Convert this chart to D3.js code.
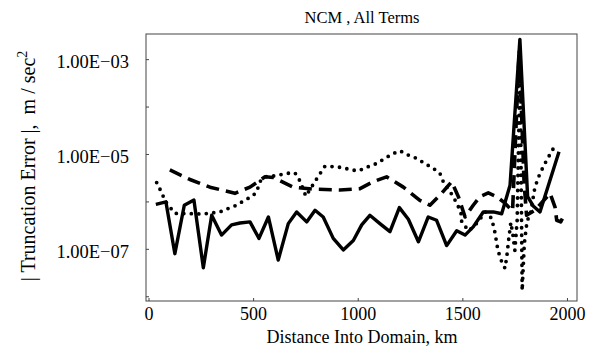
<!DOCTYPE html>
<html>
<head>
<meta charset="utf-8">
<script src="https://cdn.jsdelivr.net/npm/d3@7"></script>
<style>
  body { margin: 0; background: #fff; }
  text { font-family: "Liberation Serif", "DejaVu Serif", serif; fill: #000; }
</style>
</head>
<body>
<script>
// distance (km) and |truncation error| (m/sec^2)
var solidX = [35, 83, 126, 171, 217, 262, 302, 349, 397, 437, 485, 528, 573, 620, 668, 708, 756, 796, 835, 883,
  931, 979, 1019, 1058, 1106, 1154, 1199, 1242, 1290, 1337, 1377, 1425, 1473, 1513, 1552, 1600, 1648, 1688,
  1728, 1775, 1812, 1840, 1871, 1962];
var solidY = [8.7e-7, 9.8e-7, 7.9e-8, 8.3e-7, 1.07e-6, 4.0e-8, 5.1e-7, 1.95e-7, 3.2e-7, 3.5e-7, 3.7e-7, 1.66e-7,
  4.7e-7, 5.8e-8, 3.4e-7, 6.0e-7, 3.7e-7, 6.5e-7, 4.7e-7, 1.66e-7, 9.5e-8, 1.5e-7, 3.2e-7, 5.1e-7, 3.4e-7,
  2.3e-7, 7.4e-7, 4.2e-7, 1.41e-7, 4.7e-7, 4.0e-7, 1.17e-7, 2.4e-7, 1.95e-7, 2.9e-7, 6.0e-7, 6.0e-7, 5.5e-7,
  2.2e-6, 2.6e-3, 1.26e-6, 7.9e-7, 6.0e-7, 1.12e-5];

var dashedX = [102, 198, 294, 413, 485, 557, 596, 692, 788, 915, 1011, 1074, 1138, 1218, 1297, 1345, 1401, 1449,
  1481, 1513, 1552, 1584, 1624, 1664, 1696, 1740, 1772, 1795, 1807, 1847, 1919, 1943, 1951, 1970, 1991];
var dashedY = [4.6e-6, 2.9e-6, 2.0e-6, 1.48e-6, 2.0e-6, 3.3e-6, 3.2e-6, 2.0e-6, 1.82e-6, 1.74e-6, 1.86e-6,
  2.6e-6, 3.3e-6, 2.0e-6, 1.05e-6, 8.3e-7, 1.48e-6, 2.6e-6, 1.26e-6, 4.7e-7, 8.3e-7, 1.26e-6, 1.51e-6,
  1.26e-6, 9.8e-7, 6.3e-7, 1.6e-3, 2.5e-6, 5.1e-7, 6.5e-7, 1.48e-6, 7.6e-7, 4.0e-7, 3.7e-7, 5.5e-7];

var dottedX = [39, 59, 82, 126, 214, 254, 341, 381, 421, 461, 493, 517, 532, 556, 612, 660, 700, 724, 752, 795,
  819, 843, 883, 923, 963, 1002, 1050, 1090, 1130, 1165, 1202, 1241, 1282, 1321, 1361, 1393, 1409, 1457, 1473,
  1493, 1497, 1530, 1570, 1610, 1640, 1656, 1670, 1689, 1704, 1713, 1722, 1732, 1742, 1751, 1762, 1776, 1786,
  1796, 1810, 1823, 1847, 1871, 1903, 1947];
var dottedY = [2.5e-6, 1.66e-6, 9.8e-7, 5.6e-7, 5.5e-7, 5.4e-7, 6.0e-7, 7.1e-7, 8.3e-7, 1.07e-6, 1.26e-6,
  1.58e-6, 2.6e-6, 3.3e-6, 3.5e-6, 3.9e-6, 4.0e-6, 2.7e-6, 1.29e-6, 2.6e-6, 3.8e-6, 5.5e-6, 5.4e-6, 5.2e-6,
  4.7e-6, 4.4e-6, 5.4e-6, 6.3e-6, 8.1e-6, 1.0e-5, 1.17e-5, 9.5e-6, 8.1e-6, 6.3e-6, 5.0e-6, 3.9e-6, 2.6e-6,
  1.26e-6, 9.1e-7, 6.0e-7, 3.7e-7, 2.4e-7, 3.5e-7, 6.0e-7, 4.4e-7, 2.2e-7, 9.3e-8, 5.2e-8, 3.9e-8, 7.2e-8,
  1.66e-7, 3.6e-7, 1.9e-7, 9.3e-8, 4.0e-7, 1.0e-3, 1.32e-8, 1.26e-7, 4.1e-7, 4.7e-7, 2.0e-6, 3.9e-6, 7.4e-6,
  1.62e-5];

var xTicks = [0, 500, 1000, 1500, 2000];
var yTicks = [1e-3, 1e-4, 1e-5, 1e-6, 1e-7, 1e-8];
var yLabelled = [1e-3, 1e-5, 1e-7];

var width = 599, height = 349;
var plotL = 146, plotR = 577, plotT = 34, plotB = 301;

var svg = d3.select("body").append("svg").attr("width", width).attr("height", height);

var x = d3.scaleLinear().domain([-12, 2048]).range([plotL, plotR]);
var y = d3.scaleLog().domain([Math.pow(10, -8.1), Math.pow(10, -2.47)]).range([plotB, plotT]);

svg.append("clipPath").attr("id", "plot")
    .append("rect").attr("x", plotL).attr("y", plotT).attr("width", plotR - plotL).attr("height", plotB - plotT);

function pairs(xs, ys) {
    return xs.map(function (d, i) { return [d, ys[i]]; });
}

var line = d3.line()
    .x(function (d) { return x(d[0]); })
    .y(function (d) { return y(d[1]); });

var lines = svg.append("g").attr("clip-path", "url(#plot)")
    .attr("fill", "none").attr("stroke", "#000").attr("stroke-linejoin", "round");

lines.append("path").datum(pairs(dottedX, dottedY))
    .attr("d", line)
    .attr("stroke-width", 3.8)
    .attr("stroke-linecap", "round")
    .attr("stroke-dasharray", "0,7.5");

lines.append("path").datum(pairs(dashedX, dashedY))
    .attr("d", line)
    .attr("stroke-width", 3.6)
    .attr("stroke-dasharray", "13,7");

lines.append("path").datum(pairs(solidX, solidY))
    .attr("d", line)
    .attr("stroke-width", 3.4);

// frame
svg.append("rect")
    .attr("x", plotL).attr("y", plotT)
    .attr("width", plotR - plotL).attr("height", plotB - plotT)
    .attr("fill", "none").attr("stroke", "#444").attr("stroke-width", 1);

// y axis: ticks inside, labels only at odd decades
var yAxis = d3.axisLeft(y).tickValues(yTicks).tickSizeInner(-3).tickSizeOuter(0)
    .tickFormat(function (d) {
        return yLabelled.indexOf(d) > -1 ? "1.00E\u2212" + d3.format("02d")(-Math.round(Math.log10(d))) : "";
    });
var gy = svg.append("g").attr("transform", "translate(" + plotL + ",0)").call(yAxis);
gy.select(".domain").remove();
gy.selectAll("line").attr("stroke", "#444");
gy.selectAll("text").attr("x", -17).attr("dy", "0.45em")
    .style("font-size", "18.5px").style("font-family", "'Liberation Serif', serif");

var xAxis = d3.axisBottom(x).tickValues(xTicks).tickSizeInner(-3).tickSizeOuter(0).tickFormat(d3.format("d"));
var gx = svg.append("g").attr("transform", "translate(0," + plotB + ")").call(xAxis);
gx.select(".domain").remove();
gx.selectAll("line").attr("stroke", "#444");
gx.selectAll("text").attr("y", 19).attr("dy", 0)
    .style("font-size", "18px").style("font-family", "'Liberation Serif', serif");

// titles
svg.append("text").attr("x", 362).attr("y", 23).attr("text-anchor", "middle")
    .style("font-size", "16.5px").text("NCM , All Terms");

svg.append("text").attr("x", 362).attr("y", 343).attr("text-anchor", "middle")
    .style("font-size", "18px").text("Distance Into Domain, km");

var yl = svg.append("text").attr("transform", "translate(35,166) rotate(-90)")
    .attr("text-anchor", "middle").style("font-size", "20px")
    .attr("xml:space", "preserve");
yl.append("tspan").text("| Truncation Error |,  m / sec");
yl.append("tspan").attr("dy", -8).style("font-size", "14px").text("2");
</script>
</body>
</html>
